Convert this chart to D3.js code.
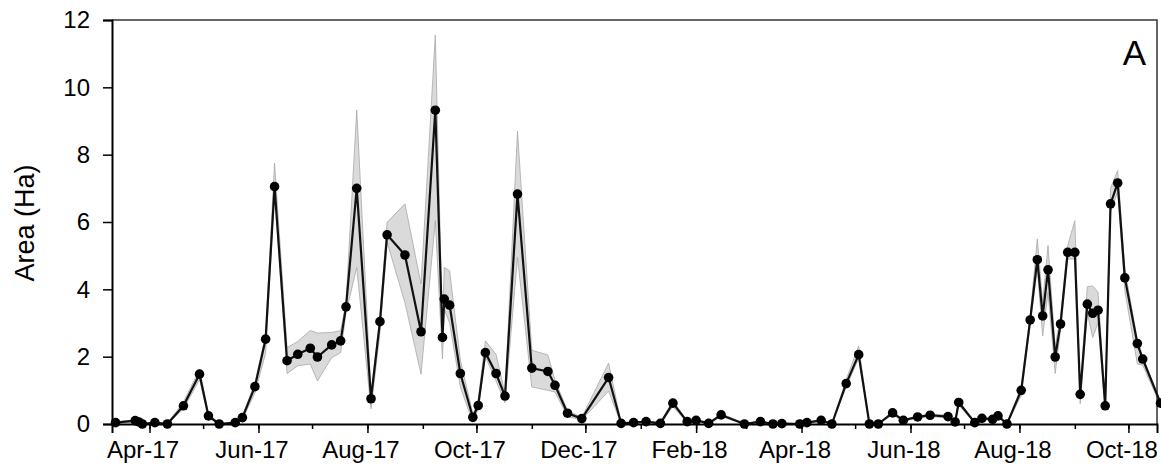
<!DOCTYPE html>
<html>
<head>
<meta charset="utf-8">
<script src="https://cdn.jsdelivr.net/npm/d3@7"></script>
<style>
  body { margin: 0; background: #fff; }
  svg { font-family: Arial, "Liberation Sans", sans-serif; }
</style>
</head>
<body>
<svg id="chart"></svg>
<script>
// observation dates, mean area (Ha) and the lower / upper bounds of the grey band
const dates = [
  "2017-03-13","2017-03-24","2017-03-26","2017-03-28","2017-04-04","2017-04-11","2017-04-20","2017-04-29",
  "2017-05-04","2017-05-10","2017-05-19","2017-05-23","2017-05-30","2017-06-05","2017-06-10","2017-06-17",
  "2017-06-23","2017-06-30","2017-07-04","2017-07-12","2017-07-17","2017-07-20","2017-07-26","2017-08-03",
  "2017-08-08","2017-08-12","2017-08-22","2017-08-31","2017-09-08","2017-09-12","2017-09-13","2017-09-16",
  "2017-09-22","2017-09-29","2017-10-02","2017-10-06","2017-10-12","2017-10-17","2017-10-24","2017-11-01",
  "2017-11-10","2017-11-14","2017-11-21","2017-11-29","2017-12-14","2017-12-21","2017-12-28","2018-01-04",
  "2018-01-12","2018-01-19","2018-01-27","2018-02-01","2018-02-08","2018-02-15","2018-02-28","2018-03-09",
  "2018-03-16","2018-03-21","2018-03-31","2018-04-04","2018-04-12","2018-04-18","2018-04-26","2018-05-03",
  "2018-05-09","2018-05-14","2018-05-22","2018-05-28","2018-06-05","2018-06-12","2018-06-22","2018-06-26",
  "2018-06-28","2018-07-07","2018-07-11","2018-07-17","2018-07-20","2018-07-25","2018-08-02","2018-08-07",
  "2018-08-11","2018-08-14","2018-08-17","2018-08-21","2018-08-24","2018-08-28","2018-09-01","2018-09-04",
  "2018-09-08","2018-09-11","2018-09-14","2018-09-18","2018-09-21","2018-09-25","2018-09-29","2018-10-06",
  "2018-10-09","2018-10-19"
];
const areaHa = [
  0.04,0.10,0.06,0.00,0.04,0.00,0.54,1.48,
  0.24,0.00,0.04,0.19,1.11,2.52,7.05,1.88,
  2.07,2.25,1.99,2.35,2.47,3.48,7.00,0.75,
  3.04,5.62,5.02,2.74,9.32,2.57,3.71,3.53,
  1.50,0.20,0.55,2.12,1.50,0.83,6.83,1.66,
  1.56,1.15,0.32,0.16,1.38,0.02,0.04,0.07,
  0.02,0.62,0.07,0.11,0.02,0.27,0.00,0.07,
  0.00,0.01,0.00,0.04,0.11,0.00,1.20,2.06,
  0.00,0.00,0.33,0.11,0.21,0.26,0.22,0.06,
  0.64,0.04,0.17,0.14,0.24,0.00,1.00,3.09,
  4.88,3.21,4.58,1.99,2.97,5.10,5.10,0.88,
  3.56,3.29,3.38,0.54,6.54,7.16,4.34,2.39,
  1.93,0.62
];
const lowerHa = [
  0.02,0.06,0.03,0.00,0.02,0.00,0.45,1.32,
  0.18,0.00,0.02,0.14,0.92,2.10,6.90,1.50,
  1.73,1.78,1.28,1.97,2.12,3.30,4.65,0.45,
  2.70,5.40,3.60,1.48,6.04,1.93,3.40,3.00,
  1.10,0.05,0.45,2.00,1.28,0.63,4.95,1.10,
  1.00,0.95,0.22,0.12,0.98,0.00,0.02,0.04,
  0.00,0.52,0.04,0.08,0.00,0.22,0.00,0.04,
  0.00,0.00,0.00,0.02,0.08,0.00,1.10,1.95,
  0.00,0.00,0.28,0.08,0.17,0.22,0.18,0.03,
  0.56,0.02,0.13,0.10,0.20,0.00,0.85,2.95,
  4.60,2.62,3.90,1.50,2.80,4.90,4.90,0.60,
  3.30,2.57,3.00,0.45,6.30,6.90,3.96,1.78,
  1.75,0.55
];
const upperHa = [
  0.06,0.13,0.08,0.02,0.06,0.02,0.65,1.62,
  0.30,0.02,0.06,0.24,1.22,2.65,7.75,2.27,
  2.45,2.78,2.70,2.72,2.77,3.60,9.33,0.90,
  3.20,5.99,6.54,4.16,11.55,2.80,4.65,4.55,
  1.90,0.30,0.70,2.47,2.07,0.90,8.70,2.19,
  2.05,1.30,0.40,0.20,1.81,0.04,0.06,0.09,
  0.04,0.70,0.09,0.13,0.04,0.31,0.02,0.09,
  0.02,0.03,0.02,0.06,0.13,0.02,1.32,2.32,
  0.02,0.02,0.38,0.13,0.24,0.30,0.26,0.08,
  0.70,0.06,0.20,0.17,0.28,0.02,1.10,3.20,
  5.50,3.60,5.30,2.30,3.20,5.30,6.04,1.00,
  4.08,4.10,3.91,0.65,7.00,7.53,4.60,2.50,
  2.00,0.65
];
const yTicks = [0, 2, 4, 6, 8, 10, 12];
const xStart = "2017-03-11";
const xEnd = "2018-10-17";
const yTitle = "Area (Ha)";
const panelLabel = "A";

const W = 1161, H = 475;
const margin = { left: 112, right: 4, top: 20, bottom: 52 };

const svg = d3.select("#chart").attr("width", W).attr("height", H);

const parse = d3.timeParse("%Y-%m-%d");
const data = dates.map((d, i) => ({
  date: parse(d), v: areaHa[i], lo: lowerHa[i], hi: upperHa[i]
}));

const x = d3.scaleTime()
  .domain([parse(xStart), parse(xEnd)])
  .range([margin.left, W - margin.right]);
const y = d3.scaleLinear()
  .domain([0, 12])
  .range([H - margin.bottom + 1, margin.top]);

// grey uncertainty band
const band = d3.area()
  .x(d => x(d.date))
  .y0(d => y(d.lo))
  .y1(d => y(d.hi));

svg.append("path")
  .datum(data)
  .attr("d", band)
  .attr("fill", "#dadada")
  .attr("stroke", "#a8a8a8")
  .attr("stroke-width", 0.8);

// frame: thin top and right
svg.append("path")
  .attr("d", `M${margin.left},${margin.top}H${W - margin.right}V${y(0)}`)
  .attr("fill", "none")
  .attr("stroke", "#333")
  .attr("stroke-width", 1.5);

// mean line and dots
const line = d3.line()
  .x(d => x(d.date))
  .y(d => y(d.v));

svg.append("path")
  .datum(data)
  .attr("d", line)
  .attr("fill", "none")
  .attr("stroke", "#111")
  .attr("stroke-width", 2.2)
  .attr("stroke-linejoin", "round");

svg.selectAll(".dot")
  .data(data)
  .enter().append("circle")
  .attr("class", "dot")
  .attr("cx", d => x(d.date))
  .attr("cy", d => y(d.v))
  .attr("r", 4.8)
  .attr("fill", "#000");

// y axis
const yAxis = svg.append("g")
  .attr("transform", `translate(${margin.left},0)`)
  .call(d3.axisLeft(y).tickValues(yTicks).tickSize(9).tickPadding(13));
yAxis.select(".domain").attr("stroke", "#000").attr("stroke-width", 2);
yAxis.selectAll(".tick line").attr("stroke", "#000").attr("stroke-width", 1.5);
yAxis.selectAll(".tick text")
  .attr("font-size", 24)
  .attr("font-family", "Arial, 'Liberation Sans', sans-serif")
  .attr("fill", "#000");

// x axis: minor month ticks, labels every other month
const months = x.ticks(d3.timeMonth.every(1)).filter(d => d >= x.domain()[0]);
const majorMonths = months.filter(d => d.getMonth() % 2 === 1);
const fmt = d3.timeFormat("%b-%y");

const xMinor = svg.append("g")
  .attr("transform", `translate(0,${y(0)})`)
  .call(d3.axisBottom(x).tickValues(months).tickSize(5).tickFormat(""));
xMinor.select(".domain").remove();
xMinor.selectAll(".tick line").attr("stroke", "#000").attr("stroke-width", 1.5);

const xAxis = svg.append("g")
  .attr("transform", `translate(0,${y(0)})`)
  .call(d3.axisBottom(x).tickValues(majorMonths).tickSize(9).tickPadding(8).tickFormat(fmt));
xAxis.select(".domain").attr("stroke", "#000").attr("stroke-width", 2);
xAxis.selectAll(".tick line").attr("stroke", "#000").attr("stroke-width", 1.5);
xAxis.selectAll(".tick text")
  .attr("font-size", 24)
  .attr("font-family", "Arial, 'Liberation Sans', sans-serif")
  .attr("fill", "#000")
  .attr("dx", -7);

// y title
svg.append("text")
  .attr("transform", `translate(34,${(margin.top + y(0)) / 2 + 1}) rotate(-90)`)
  .attr("text-anchor", "middle")
  .attr("font-size", 27)
  .attr("fill", "#000")
  .text(yTitle);

// panel letter
svg.append("text")
  .attr("x", 1146)
  .attr("y", 65)
  .attr("text-anchor", "end")
  .attr("font-size", 35)
  .attr("fill", "#000")
  .text(panelLabel);
</script>
</body>
</html>
